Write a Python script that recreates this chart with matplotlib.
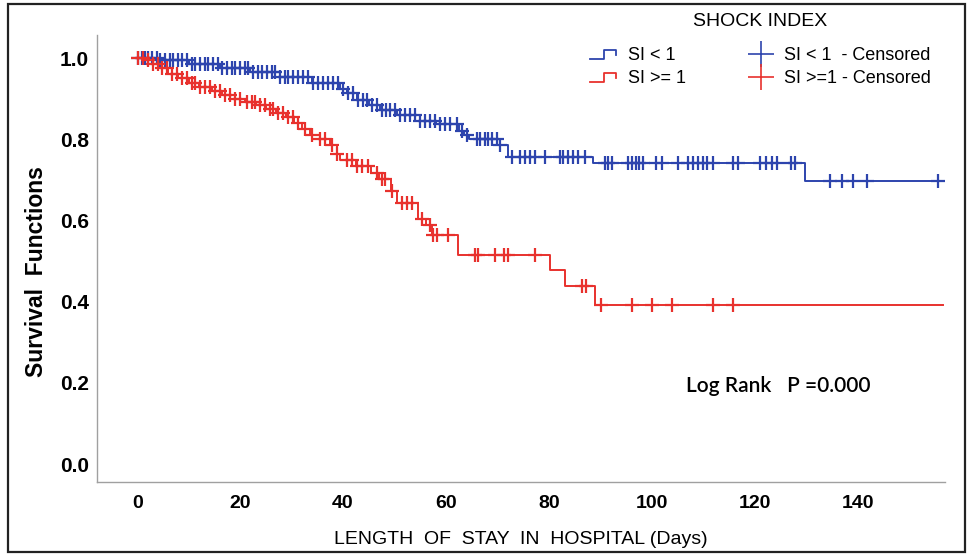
import numpy as np
import matplotlib
matplotlib.use("Agg")
import matplotlib.pyplot as plt
from matplotlib.lines import Line2D
from matplotlib.legend_handler import HandlerBase
from matplotlib.patches import Rectangle

# ---------------- data ----------------
# SI < 1 (blue) : step times (days) and survival
blue_t = [0, 4.5, 10, 16, 22, 27.8, 34, 39.4, 40.8, 42.7, 45, 47.2, 50.5,
          55, 58, 62.5, 63.5, 64.5, 70.5, 72, 88.5, 129.7]
blue_s = [1.0, 0.995, 0.985, 0.975, 0.965, 0.954, 0.94, 0.925, 0.915, 0.897,
          0.885, 0.872, 0.86, 0.845, 0.838, 0.82, 0.81, 0.80, 0.785, 0.757,
          0.741, 0.697]
blue_cens = [0.2, 1.0, 1.6, 2.1, 2.9, 3.9, 4.5, 5.4, 6.4, 7.0, 8.0, 8.7, 9.7,
             10.7, 11.3, 12.2, 13.2, 13.8, 14.8, 15.7, 16.5, 17.5, 18.4, 19.0,
             20.0, 21.0, 21.6, 22.5, 23.5, 24.3, 25.2, 26.2, 26.8, 27.8, 28.7,
             29.3, 30.3, 31.3, 32.2, 33.2, 34.2, 35.1, 36.1, 37.1, 38.1, 39.0,
             40.0, 41.0, 41.9, 42.9, 43.9, 44.7, 45.6, 46.6, 47.6, 48.3, 49.1,
             50.1, 51.1, 52.0, 53.0, 54.0, 55.0, 55.9, 56.9, 57.9, 58.8, 59.8,
             60.8, 62.1, 63.1, 64.1, 66.0, 66.6, 67.6, 68.2, 68.9, 69.9, 70.5,
             72.8, 74.4, 75.3, 76.3, 77.3, 79.2, 82.1, 82.7, 83.7, 84.7, 85.6,
             87.0, 90.9, 91.5, 92.2, 95.3, 96.1, 96.9, 97.5, 98.3, 100.8, 101.9,
             105.0, 107.0, 108.0, 108.9, 109.9, 110.7, 111.8, 115.7, 116.7,
             121.0, 122.1, 123.3, 124.3, 127.0, 127.8, 134.6, 136.9, 139.0,
             141.7, 155.5]

# SI >= 1 (red)
red_t = [0, 1.5, 3, 4.5, 6, 8, 10, 12, 14.5, 16.5, 19, 21, 23, 25, 27, 29,
         30.5, 32, 33.5, 35.5, 37.5, 38.8, 39.5, 42.5, 45.5, 47, 49.4, 50.4,
         54.6, 56.2, 57.2, 62.4, 80.2, 83.1, 89]
red_s = [1.0, 0.995, 0.985, 0.975, 0.96, 0.95, 0.94, 0.93, 0.92, 0.91, 0.90,
         0.893, 0.885, 0.875, 0.865, 0.855, 0.84, 0.825, 0.81, 0.80, 0.785,
         0.765, 0.75, 0.735, 0.718, 0.703, 0.672, 0.643, 0.604, 0.589, 0.565,
         0.515, 0.478, 0.438, 0.392]
red_cens = [0.2, 1.2, 2.1, 3.1, 4.1, 4.9, 5.8, 6.8, 7.8, 8.7, 9.7, 10.7, 11.3,
            12.2, 13.2, 14.2, 15.1, 16.1, 17.1, 18.1, 19.0, 20.0, 21.3, 22.3,
            22.9, 23.9, 24.9, 25.8, 26.4, 27.4, 28.3, 29.3, 30.3, 31.3, 32.6,
            34.0, 35.5, 36.5, 37.9, 38.8, 40.8, 41.7, 42.7, 43.7, 44.9, 46.6,
            47.6, 48.2, 49.5, 51.5, 52.4, 53.4, 55.3, 56.9, 57.5, 58.3, 60.4,
            65.6, 66.2, 69.5, 71.3, 72.0, 77.3, 86.4, 87.2, 90.1, 96.1, 100.0,
            104.0, 111.8, 115.7]

follow_end = 156.5

xticks = [0, 20, 40, 60, 80, 100, 120, 140]
yticks = [0.0, 0.2, 0.4, 0.6, 0.8, 1.0]

BLUE = "#2d44ad"
RED = "#e8312d"

plt.rcParams["font.family"] = ["Liberation Sans", "DejaVu Sans"]

fig = plt.figure(figsize=(9.70, 5.56), dpi=100)
ax = fig.add_axes([0.100, 0.133, 0.874, 0.804])


def surv_at(times, surv, x):
    idx = np.searchsorted(np.asarray(times), np.asarray(x), side="right") - 1
    return np.asarray(surv)[idx]


for t, s, c, col in [(blue_t, blue_s, blue_cens, BLUE), (red_t, red_s, red_cens, RED)]:
    tt = np.append(t, follow_end)
    ss = np.append(s, s[-1])
    ax.step(tt, ss, where="post", color=col, lw=1.4, zorder=3)
    ax.plot(c, surv_at(t, s, c), linestyle="none", marker="+", markersize=9.5,
            markeredgewidth=1.6, color=col, zorder=4)

ax.set_xlim(-7.8, 156.9)
ax.set_ylim(-0.044, 1.057)
ax.set_xticks(xticks)
ax.set_xticklabels([str(v) for v in xticks])
ax.set_yticks(yticks)
ax.set_yticklabels([f"{v:.1f}" for v in yticks])
ax.tick_params(length=0)
ax.tick_params(axis="x", pad=9)
ax.tick_params(axis="y", pad=6)
for lab in ax.get_xticklabels():
    lab.set_fontweight("bold")
    lab.set_fontsize(14)
for lab in ax.get_yticklabels():
    lab.set_fontweight("bold")
    lab.set_fontsize(15)

for side in ["top", "right"]:
    ax.spines[side].set_visible(False)
for side in ["left", "bottom"]:
    ax.spines[side].set_color("#a0a0a0")
    ax.spines[side].set_linewidth(1.0)

ax.set_ylabel("Survival  Functions", fontsize=16.5, fontweight="bold")
ax.yaxis.set_label_coords(-0.058, 0.47)
ax.set_xlabel("LENGTH  OF  STAY  IN  HOSPITAL (Days)", fontsize=14, labelpad=14)

ax.text(0.695, 0.215, "Log Rank   P =0.000", transform=ax.transAxes,
        fontsize=15, family=["Lato", "DejaVu Sans"], fontweight="semibold",
        va="center")


class StepHandler(HandlerBase):
    def create_artists(self, legend, orig_handle, xdescent, ydescent, width,
                       height, fontsize, trans):
        x0 = -xdescent
        y0, y1 = -ydescent + height * 0.1, -ydescent + height * 0.8
        xs = [x0, x0 + width * 0.45, x0 + width * 0.45, x0 + width * 0.85,
              x0 + width * 0.85]
        ys = [y0, y0, y1, y1, y0 + (y1 - y0) * 0.45]
        ln = Line2D(xs, ys, color=orig_handle.get_color(), lw=1.3)
        ln.set_transform(trans)
        return [ln]


h_blue = Line2D([], [], color=BLUE)
h_red = Line2D([], [], color=RED)
h_bc = Line2D([], [], color=BLUE, marker="+", linestyle="none", markersize=19,
              markeredgewidth=1.2)
h_rc = Line2D([], [], color=RED, marker="+", linestyle="none", markersize=19,
              markeredgewidth=1.2)
leg = fig.legend([h_blue, h_red, h_bc, h_rc],
                 ["SI < 1", "SI >= 1", "SI < 1  - Censored", "SI >=1 - Censored"],
                 ncol=2, loc="upper left", bbox_to_anchor=(0.588, 1.012),
                 frameon=False, fontsize=13, title="SHOCK INDEX",
                 title_fontsize=14, handlelength=1.7, handletextpad=0.4,
                 columnspacing=3.3, labelspacing=0.35, borderpad=0.6,
                 handler_map={h_blue: StepHandler(), h_red: StepHandler()})
leg._legend_box.sep = 12

fig.patches.append(Rectangle((0.008, 0.007), 0.987, 0.985, transform=fig.transFigure,
                             fill=False, edgecolor="#222222", linewidth=1.6))

fig.savefig("out.png", dpi=100)
